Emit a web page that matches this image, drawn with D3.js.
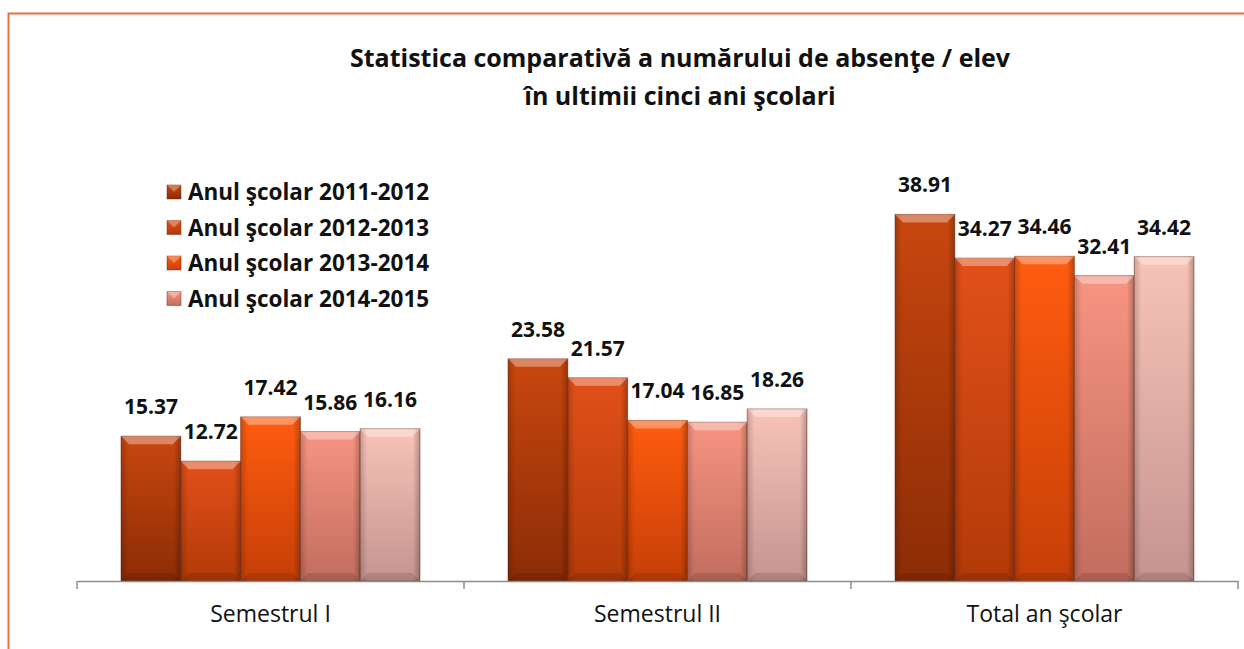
<!DOCTYPE html>
<html>
<head>
<meta charset="utf-8">
<script src="https://cdn.jsdelivr.net/npm/d3@7"></script>
<style>
  body { margin: 0; background: #fff; }
  svg { display: block; font-family: "Open Sans", sans-serif; }
</style>
</head>
<body>
<div id="chart"></div>
<script>
// Date
const categories = ['Semestrul I', 'Semestrul II', 'Total an şcolar'];
const seriesNames = ['Anul şcolar 2011-2012', 'Anul şcolar 2012-2013', 'Anul şcolar 2013-2014', 'Anul şcolar 2014-2015', 'Anul şcolar 2015-2016'];
const values2011 = [15.37, 23.58, 38.91];
const values2012 = [12.72, 21.57, 34.27];
const values2013 = [17.42, 17.04, 34.46];
const values2014 = [15.86, 16.85, 32.41];
const values2015 = [16.16, 18.26, 34.42];
const legendCount = 4;
const titleLines = ['Statistica comparativă a numărului de absenţe / elev', 'în ultimii cinci ani şcolari'];

const allValues = [values2011, values2012, values2013, values2014, values2015];
const colors = [
    { top: '#c9470f', bottom: '#8c2c06' },
    { top: '#e2501a', bottom: '#b23a08' },
    { top: '#ff5c10', bottom: '#c63f07' },
    { top: '#f79482', bottom: '#c26d5f' },
    { top: '#f8c3b7', bottom: '#c59490' }
];

const width = 1244;
const height = 649;
const margin = { left: 77, right: 6, bottom: 68 };
const baseY = height - margin.bottom;

const svg = d3.select('#chart').append('svg')
    .attr('width', width)
    .attr('height', height);

const defs = svg.append('defs');
colors.forEach((c, i) => {
    const g = defs.append('linearGradient')
        .attr('id', 'grad' + i)
        .attr('x1', 0).attr('y1', 0).attr('x2', 0).attr('y2', 1);
    g.append('stop').attr('offset', '0%').attr('stop-color', c.top);
    g.append('stop').attr('offset', '100%').attr('stop-color', c.bottom);
});
const shade = defs.append('linearGradient')
    .attr('id', 'sideShade')
    .attr('x1', 0).attr('y1', 0).attr('x2', 1).attr('y2', 0);
shade.append('stop').attr('offset', '0%').attr('stop-color', '#000').attr('stop-opacity', 0.18);
shade.append('stop').attr('offset', '12%').attr('stop-color', '#000').attr('stop-opacity', 0);
shade.append('stop').attr('offset', '88%').attr('stop-color', '#000').attr('stop-opacity', 0);
shade.append('stop').attr('offset', '100%').attr('stop-color', '#000').attr('stop-opacity', 0.25);

// Chenar
svg.append('path')
    .attr('d', `M8.5,${height} V13.5 H${width}`)
    .attr('fill', 'none')
    .attr('stroke', '#e8703f')
    .attr('stroke-width', 2);

// Titlu
svg.append('g').selectAll('text')
    .data(titleLines)
    .join('text')
    .attr('x', 680)
    .attr('y', (d, i) => 67 + i * 38)
    .attr('text-anchor', 'middle')
    .attr('font-size', 25)
    .attr('font-weight', 'bold')
    .attr('fill', '#111')
    .text(d => d);

// Scale
const x0 = d3.scaleBand()
    .domain(categories)
    .range([margin.left, width - margin.right]);

const x1 = d3.scaleBand()
    .domain(d3.range(allValues.length))
    .range([0, x0.bandwidth()])
    .paddingOuter(0.736);

const y = d3.scaleLinear()
    .domain([0, 45])
    .range([baseY, baseY - 424]);

// Bare
const groups = svg.append('g').selectAll('g')
    .data(categories)
    .join('g')
    .attr('transform', d => `translate(${x0(d)},0)`);

const bars = groups.selectAll('g')
    .data((d, ci) => allValues.map((vals, si) => ({ si: si, v: vals[ci] })))
    .join('g');

const bw = x1.bandwidth();
const bevel = 8;

bars.append('rect')
    .attr('x', d => x1(d.si))
    .attr('y', d => y(d.v))
    .attr('width', bw)
    .attr('height', d => baseY - y(d.v))
    .attr('fill', d => `url(#grad${d.si})`)
    .attr('stroke', '#5a1a04')
    .attr('stroke-opacity', 0.45)
    .attr('stroke-width', 1);

bars.append('rect')
    .attr('x', d => x1(d.si))
    .attr('y', d => y(d.v))
    .attr('width', bw)
    .attr('height', d => baseY - y(d.v))
    .attr('fill', 'url(#sideShade)');

// bevel sus
bars.append('path')
    .attr('d', d => {
        const xl = x1(d.si), xr = xl + bw, yt = y(d.v);
        return `M${xl},${yt} H${xr} L${xr - bevel},${yt + bevel} H${xl + bevel} Z`;
    })
    .attr('fill', '#fff')
    .attr('fill-opacity', 0.35);

// bevel jos
bars.append('path')
    .attr('d', d => {
        const xl = x1(d.si), xr = xl + bw;
        return `M${xl},${baseY} H${xr} L${xr - bevel},${baseY - bevel} H${xl + bevel} Z`;
    })
    .attr('fill', '#000')
    .attr('fill-opacity', 0.12);

// Etichete valori
bars.append('text')
    .attr('x', d => x1(d.si) + bw / 2)
    .attr('y', d => y(d.v) - 22)
    .attr('text-anchor', 'middle')
    .attr('font-size', 21)
    .attr('font-weight', 'bold')
    .attr('fill', '#111')
    .text(d => d.v.toFixed(2));

// Axa X
const xAxis = svg.append('g')
    .attr('transform', `translate(0,${baseY})`)
    .call(d3.axisBottom(x0).tickSize(0).tickPadding(25));
xAxis.select('.domain').attr('stroke', '#8c8c8c').attr('stroke-width', 1.5);
xAxis.selectAll('text')
    .attr('font-size', 23)
    .attr('fill', '#111')
    .attr('font-family', '"Open Sans", sans-serif');

const tickPos = categories.map(c => x0(c)).concat([x0.range()[1]]);
svg.append('g').selectAll('line')
    .data(tickPos)
    .join('line')
    .attr('x1', d => d).attr('x2', d => d)
    .attr('y1', baseY).attr('y2', baseY + 8)
    .attr('stroke', '#8c8c8c')
    .attr('stroke-width', 1.5);

// Legenda
const legend = svg.append('g')
    .attr('transform', 'translate(167,185)');
const items = legend.selectAll('g')
    .data(seriesNames.slice(0, legendCount))
    .join('g')
    .attr('transform', (d, i) => `translate(0,${i * 35.5})`);
items.append('rect')
    .attr('width', 14).attr('height', 14)
    .attr('fill', (d, i) => `url(#grad${i})`)
    .attr('stroke', '#5a1a04').attr('stroke-opacity', 0.4);
items.append('path')
    .attr('d', 'M0,0 H14 L7,7 Z')
    .attr('fill', '#fff').attr('fill-opacity', 0.3);
items.append('text')
    .attr('x', 21)
    .attr('y', 15)
    .attr('font-size', 22.5)
    .attr('font-weight', 'bold')
    .attr('fill', '#111')
    .text(d => d);
</script>
</body>
</html>
